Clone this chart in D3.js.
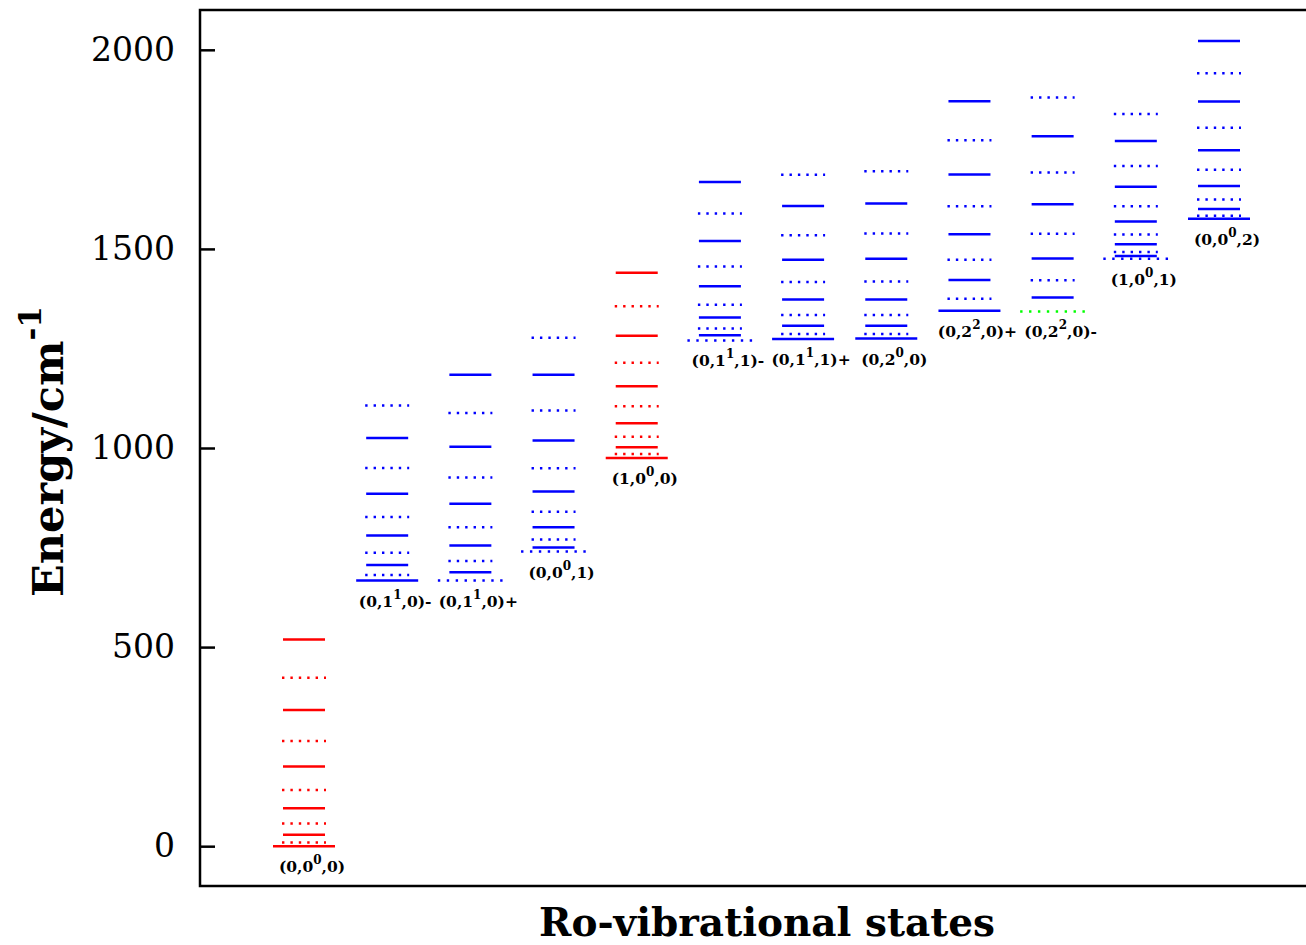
<!DOCTYPE html>
<html>
<head>
<meta charset="utf-8">
<script src="https://cdn.jsdelivr.net/npm/d3@7"></script>
<style>
  body { margin: 0; background: #fff; }
  text { font-family: "DejaVu Serif", serif; }
</style>
</head>
<body>
<div id="chart"></div>
<script>
// vibrational quantum numbers of each band (v1, v2^l, v3) and the +/- tag
const v1 = [0, 0, 0, 0, 1, 0, 0, 0, 0, 0, 1, 0];
const v2 = [0, 1, 1, 0, 0, 1, 1, 2, 2, 2, 0, 0];
const lq = [0, 1, 1, 0, 0, 1, 1, 0, 2, 2, 0, 0];
const v3 = [0, 0, 0, 1, 0, 1, 1, 0, 0, 0, 1, 2];
const parity = ["", "-", "+", "", "", "-", "+", "", "+", "-", "", ""];

const bandColor = ["red", "blue", "blue", "blue", "red", "blue", "blue", "blue", "blue", "blue", "blue", "blue"];
const originColor = ["red", "blue", "blue", "blue", "red", "blue", "blue", "blue", "blue", "lime", "blue", "blue"];
// style of the lowest (band origin) level, the rest alternate
const firstStyle = ["solid", "solid", "dotted", "dotted", "solid", "dotted", "solid", "solid", "solid", "dotted", "dotted", "solid"];

// level energies in cm^-1, lowest first
const levels = [
  [0, 9, 29, 57, 95, 141, 200, 264, 342, 423, 519],
  [667, 681, 706, 737, 780, 827, 885, 950, 1025, 1107],
  [667, 688, 716, 755, 801, 860, 926, 1003, 1088, 1184],
  [740, 750, 770, 801, 840, 891, 949, 1019, 1094, 1184, 1277],
  [975, 985, 1002, 1028, 1062, 1105, 1155, 1214, 1282, 1356, 1440],
  [1270, 1283, 1300, 1328, 1360, 1406, 1456, 1520, 1589, 1668],
  [1274, 1286, 1307, 1334, 1373, 1417, 1473, 1534, 1608, 1686],
  [1275, 1286, 1307, 1334, 1373, 1418, 1475, 1539, 1614, 1695],
  [1345, 1375, 1422, 1473, 1537, 1607, 1687, 1773, 1871],
  [1343, 1378, 1421, 1476, 1538, 1612, 1692, 1783, 1880],
  [1475, 1482, 1492, 1512, 1536, 1569, 1607, 1656, 1708, 1771, 1839],
  [1576, 1583, 1600, 1624, 1658, 1699, 1748, 1804, 1870, 1941, 2022]
];

const yTicks = [0, 500, 1000, 1500, 2000];

const W = 1306, H = 945;
const mLeft = 200, mTop = 10, mBottom = 886;

const svg = d3.select("#chart").append("svg")
    .attr("width", W)
    .attr("height", H);

const x = d3.scaleLinear()
    .domain([0, levels.length - 1])
    .range([304, 1219]);

const y = d3.scaleLinear()
    .domain([-100, 2100])
    .range([mBottom, mTop]);

// rows: one per level
const rows = [];
levels.forEach((lv, b) => {
  const startDotted = firstStyle[b] === "dotted";
  lv.forEach((e, j) => {
    const dotted = (j % 2 === 0) === startDotted;
    rows.push({
      band: b,
      e: e,
      origin: j === 0,
      dotted: dotted,
      color: j === 0 ? originColor[b] : bandColor[b]
    });
  });
});

const halfW = d => d.origin ? (d.dotted ? 32.5 : 31) : (d.dotted ? 22 : 21);

svg.append("g")
  .selectAll("line")
  .data(rows)
  .join("line")
    .attr("x1", d => x(d.band) - halfW(d))
    .attr("x2", d => x(d.band) + halfW(d))
    .attr("y1", d => y(d.e))
    .attr("y2", d => y(d.e))
    .attr("stroke", d => d.color)
    .attr("stroke-width", 2.5)
    .attr("stroke-dasharray", d => d.dotted ? (d.origin ? "2.4,6.5" : "2.4,6") : null);

// band labels
const lab = svg.append("g")
  .selectAll("text")
  .data(levels.map((lv, b) => b))
  .join("text")
    .attr("x", b => x(b) + 8)
    .attr("y", b => y(levels[b][0]) + 26)
    .attr("text-anchor", "middle")
    .attr("font-size", 15.5)
    .attr("font-weight", "bold");
lab.append("tspan").text(b => `(${v1[b]},${v2[b]}`);
lab.append("tspan").attr("font-size", 12).attr("dy", -8).text(b => lq[b]);
lab.append("tspan").attr("dy", 8).text(b => `,${v3[b]})${parity[b]}`);

// frame
svg.append("rect")
    .attr("x", mLeft)
    .attr("y", mTop)
    .attr("width", W + 10 - mLeft)
    .attr("height", mBottom - mTop)
    .attr("fill", "none")
    .attr("stroke", "black")
    .attr("stroke-width", 2.5);

const yAxis = svg.append("g")
    .attr("transform", `translate(${mLeft},0)`)
    .call(d3.axisLeft(y).tickValues(yTicks).tickFormat(d3.format("d")).tickSize(-15).tickPadding(25));
yAxis.select(".domain").remove();
yAxis.selectAll(".tick line").attr("stroke", "black").attr("stroke-width", 2.5);
yAxis.selectAll(".tick text")
    .attr("font-family", "DejaVu Serif")
    .attr("font-size", 33)
    .attr("fill", "black");

// axis titles
svg.append("text")
    .attr("x", 767)
    .attr("y", 936)
    .attr("text-anchor", "middle")
    .attr("font-size", 39)
    .attr("font-weight", "bold")
    .text("Ro-vibrational states");

const yt = svg.append("text")
    .attr("transform", "translate(63,597) rotate(-90)")
    .attr("font-size", 43)
    .attr("font-weight", "bold");
yt.append("tspan").text("Energy/cm");
yt.append("tspan").attr("font-size", 31).attr("dy", -22).text("-1");
</script>
</body>
</html>
